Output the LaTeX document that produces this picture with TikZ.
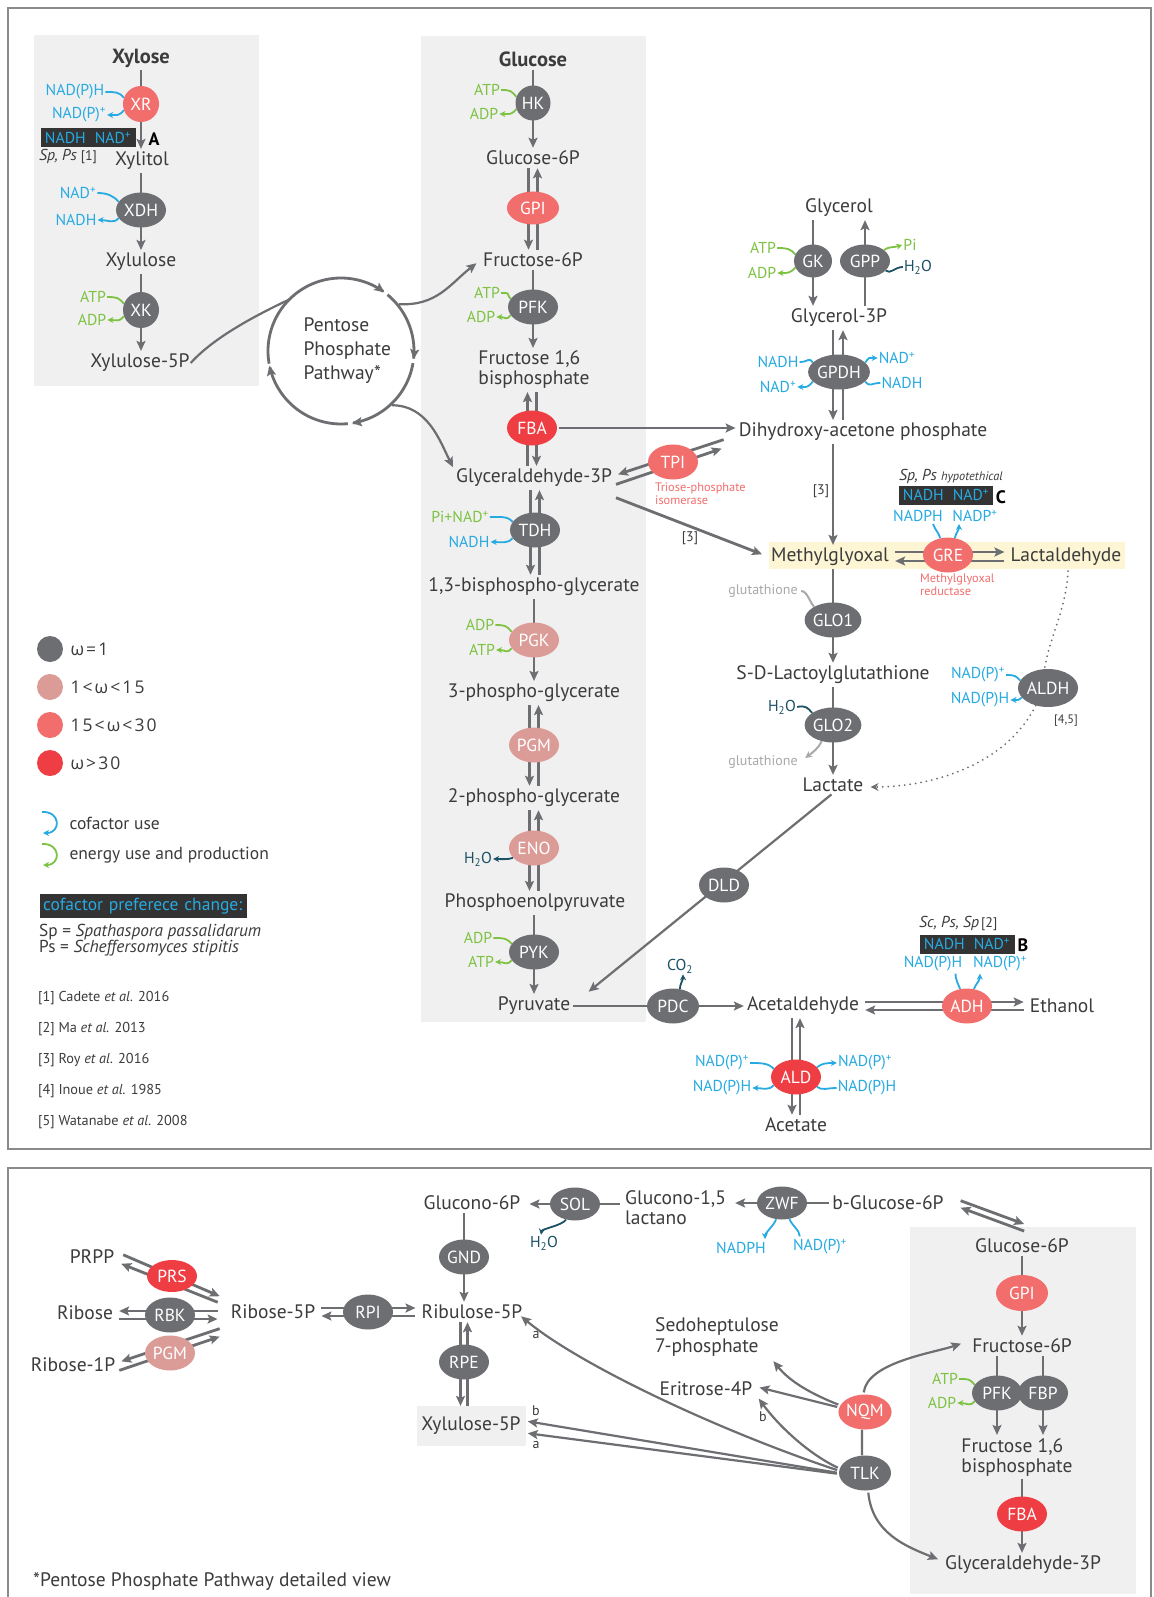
\documentclass[tikz,border=0pt]{standalone}
\usepackage{fontspec}
\setmainfont{PT Sans}
\newfontfamily\grk[LetterSpace=12]{Open Sans}
\usetikzlibrary{arrows.meta,shapes.geometric,calc}
\definecolor{txt}{HTML}{3C3C3C}
\definecolor{lg}{HTML}{6D6E71}
\definecolor{eg}{HTML}{6D6E71}
\definecolor{ep}{HTML}{DB9C98}
\definecolor{es}{HTML}{F26E6C}
\definecolor{er}{HTML}{EE3E44}
\definecolor{cbl}{HTML}{27AAE1}
\definecolor{cgn}{HTML}{7DC242}
\definecolor{cte}{HTML}{1D5166}
\definecolor{gbox}{HTML}{F0F0F0}
\definecolor{ybox}{HTML}{FDF5D3}
\definecolor{kbox}{HTML}{333333}
\definecolor{glu}{HTML}{A7A9AC}
\definecolor{frm}{HTML}{8A8A8A}
\newcommand\fM{\fontsize{19.5}{20}\selectfont}
\newcommand\fE{\fontsize{17.5}{19}\selectfont}
\newcommand\fC{\fontsize{15.8}{17}\selectfont}
\newcommand\fS{\fontsize{14}{16}\selectfont}
\newcommand\fT{\fontsize{12.3}{13}\selectfont}
\newcommand\fL{\fontsize{17.5}{19}\selectfont}
\newcommand\pl{\textsuperscript{+}}
\newcommand\wat{H\textsubscript{2}O}
\newcommand\cofl[5]{%
 \draw[#1] (#3.east) .. controls +(10,0) and +(-5,-6) .. (#5.160);
 \draw[#2] (#5.200) .. controls +(-5,6) and +(10,0) .. (#4.east);}
\pgfdeclarelayer{back}
\pgfdeclarelayer{bg}
\pgfsetlayers{back,bg,main}
\begin{document}
\begin{tikzpicture}[x=1pt,y=-1pt,
 met/.style={font=\fM, text=txt, inner sep=1pt},
 metb/.style={font=\fontsize{20.5}{22}\selectfont\bfseries, text=txt, inner sep=1pt},
 enz/.style={ellipse, minimum width=50pt, minimum height=35pt, inner sep=0pt, text=white, font=\fE},
 g1/.style={enz, fill=eg}, g2/.style={enz, fill=ep}, g3/.style={enz, fill=es}, g4/.style={enz, fill=er},
 rx/.style={draw=lg, line width=2.8pt},
 ar/.style={rx, shorten >=2pt, shorten <=2pt, -{Stealth[length=10pt,width=9pt,inset=2pt]}},
 cl/.style={font=\fC, text=cbl, inner sep=1pt},
 gl/.style={font=\fC, text=cgn, inner sep=1pt},
 tl/.style={font=\fC, text=cte, inner sep=1pt},
 cB/.style={draw=cbl, line width=1.8pt},
 cA/.style={cB, -{Stealth[length=6pt,width=6pt]}},
 gB/.style={draw=cgn, line width=1.8pt},
 gA/.style={gB, -{Stealth[length=6pt,width=6pt]}},
 tB/.style={draw=cte, line width=1.8pt},
 tA/.style={tB, -{Stealth[length=6pt,width=6pt]}},
 kbx/.style={fill=kbox, text=cbl, font=\fC, inner sep=0pt, minimum height=19pt},
 refs/.style={font=\fontsize{14.3}{16}\selectfont, text=txt, anchor=west, inner sep=0pt},
 sal/.style={font=\fT, text=es, align=left, anchor=west, inner sep=0pt},
 dot/.style={draw=lg, line width=2pt, line cap=round, dash pattern=on 0pt off 5.5pt},
]
\path[use as bounding box] (0,0) rectangle (1153,1597);
\clip (0,0) rectangle (1153,1597);
\begin{pgfonlayer}{back}
\fill[white] (0,0) rectangle (1153,1597);
\fill[gbox] (34,35) rectangle (259,386);
\fill[gbox] (421,36) rectangle (646,1022);
\fill[gbox] (910,1227) rectangle (1136,1594);
\fill[gbox] (417,1406) rectangle (526,1446);
\fill[ybox] (769,542) rectangle (1125,569);
\draw[frm, line width=1.2pt] (8,8) rectangle (1151,1149);
\draw[frm, line width=1.2pt] (8,1600) -- (8,1168) -- (1151,1168) -- (1151,1600);
\end{pgfonlayer}

% ---------- Xylose column
\node[metb] (xyl) at (141,58) {Xylose};
\node[g3, minimum width=36pt, minimum height=36pt] (xr) at (141,104) {XR};
\node[met] (xylt) at (142,161) {Xylitol};
\node[g1] (xdh) at (141,210) {XDH};
\node[met] (xlu) at (141,262) {Xylulose};
\node[g1, minimum width=36pt, minimum height=36pt] (xk) at (141,310) {XK};
\node[met] (x5p) at (140,363) {Xylulose-5P};
\node[cl] (xr1) at (75,92) {NAD(P)H};
\node[cl] (xr2) at (79,115) {NAD(P)\pl};
\node[kbx, minimum width=95pt] (bxa) at (88,138) {NADH\hspace{9pt}NAD\pl};
\node[font=\fontsize{18}{20}\selectfont\bfseries, text=black] (la) at (154,139) {A};
\node[font=\fC\itshape, text=txt, anchor=west, inner sep=0pt] (spa) at (39,156) {Sp, Ps\hspace{4pt}{\normalfont\fS[1]}};
\node[cl] (xdh1) at (78,193) {NAD\pl};
\node[cl] (xdh2) at (76,220) {NADH};
\node[gl] (xk1) at (93,297) {ATP};
\node[gl] (xk2) at (92,320) {ADP};

% ---------- Glucose column
\node[metb] (glc) at (533,59) {Glucose};
\node[g1, minimum width=35pt, minimum height=35pt] (hk) at (533,103) {HK};
\node[gl] (hk1) at (487,90) {ATP};
\node[gl] (hk2) at (484,114) {ADP};
\node[met] (g6p) at (533,158) {Glucose-6P};
\node[g3, minimum width=52pt, minimum height=33pt] (gpi) at (533,208) {GPI};
\node[met] (f6p) at (533,260) {Fructose-6P};
\node[g1] (pfk) at (533,307) {PFK};
\node[gl] (pfk1) at (487,293) {ATP};
\node[gl] (pfk2) at (481,317) {ADP};
\node[met, align=left] (fbp) at (534,370) {Fructose 1,6\\bisphosphate};
\node[g4] (fba) at (532,428) {FBA};
\node[met] (g3p) at (534,478) {Glyceraldehyde-3P};
\node[g1] (tdh) at (535,530) {TDH};
\node[gl] (tdh1) at (460,517) {Pi+NAD\pl};
\node[cl] (tdh2) at (469,542) {NADH};
\node[met] (bpg) at (534,587) {1,3-bisphospho-glycerate};
\node[g2] (pgk) at (534,640) {PGK};
\node[gl] (pgk1) at (480,625) {ADP};
\node[gl] (pgk2) at (482,650) {ATP};
\node[met] (p3g) at (534,693) {3-phospho-glycerate};
\node[g2] (pgm) at (534,745) {PGM};
\node[met] (p2g) at (534,798) {2-phospho-glycerate};
\node[g2] (eno) at (534,848) {ENO};
\node[tl] (eno1) at (478,859) {\wat};
\node[met] (pep) at (535,903) {Phosphoenolpyruvate};
\node[g1] (pyk) at (534,952) {PYK};
\node[gl] (pyk1) at (478,938) {ADP};
\node[gl] (pyk2) at (481,962) {ATP};
\node[met] (pyr) at (534,1006) {Pyruvate};

% ---------- Pentose phosphate circle
\coordinate (ppc) at (341,351);
\node[font=\fontsize{19.5}{24}\selectfont, text=txt, align=left, anchor=west] (ppt) at (300,351) {Pentose\\Phosphate\\Pathway*};

% ---------- Glycerol
\node[met] (glyc) at (839,208) {Glycerol};
\node[g1, minimum width=38pt, minimum height=33pt] (gk) at (813,261) {GK};
\node[g1, minimum width=50pt, minimum height=33pt] (gpp) at (865,261) {GPP};
\node[gl] (gk1) at (763,248) {ATP};
\node[gl] (gk2) at (762,273) {ADP};
\node[gl] (gpp1) at (910,245) {Pi};
\node[tl] (gpp2) at (918,267) {\wat};
\node[met] (gly3p) at (839,318) {Glycerol-3P};
\node[g1, minimum width=54pt] (gpdh) at (839,372) {GPDH};
\node[cl] (gd1) at (778,362) {NADH};
\node[cl] (gd2) at (778,387) {NAD\pl};
\node[cl] (gd3) at (897,358) {NAD\pl};
\node[cl] (gd4) at (902,383) {NADH};
\node[met] (dhap) at (863,432) {Dihydroxy-acetone phosphate};
\node[g3] (tpi) at (673,462) {TPI};
\node[sal] (tpit) at (655,494) {Triose-phosphate\\isomerase};
\node[font=\fS, text=txt] (r3a) at (821,491) {[3]};
\node[font=\fS, text=txt] (r3b) at (690,538) {[3]};

% ---------- Methylglyoxal
\node[met] (mgo) at (830,557) {Methylglyoxal};
\node[g3] (gre) at (948,555) {GRE};
\node[met] (lald) at (1066,557) {Lactaldehyde};
\node[sal] (gret) at (920,585) {Methylglyoxal\\reductase};
\node[font=\fC\itshape, text=txt, anchor=west, inner sep=0pt] (spc) at (899,476) {Sp, Ps {\fT hypotethical}};
\node[kbx, minimum width=94pt] (bxc) at (946,495) {NADH\hspace{9pt}NAD\pl};
\node[font=\fontsize{18}{20}\selectfont\bfseries, text=black] (lc) at (1001,497) {C};
\node[cl] (gre1) at (918,516) {NADPH};
\node[cl] (gre2) at (975,516) {NADP\pl};
\node[g1] (glo1) at (833,620) {GLO1};
\node[font=\fS, text=glu] (gt1) at (763,591) {glutathione};
\node[met] (sdl) at (833,675) {S-D-Lactoylglutathione};
\node[g1] (glo2) at (833,725) {GLO2};
\node[tl] (glo2w) at (782,707) {\wat};
\node[font=\fS, text=glu] (gt2) at (763,762) {glutathione};
\node[met] (lac) at (833,785) {Lactate};
\node[g1, minimum width=56pt, minimum height=38pt] (aldh) at (1048,688) {ALDH};
\node[cl] (al1) at (978,675) {NAD(P)\pl};
\node[cl] (al2) at (980,700) {NAD(P)H};
\node[font=\fT, text=txt] (r45) at (1066,721) {[4,5]};

% ---------- Pyruvate branch
\node[g1] (dld) at (724,885) {DLD};
\node[g1, minimum width=52pt] (pdc) at (673,1006) {PDC};
\node[tl] (co2) at (680,966) {CO\textsubscript{2}};
\node[met] (acald) at (803,1006) {Acetaldehyde};
\node[g3] (adh) at (967,1006) {ADH};
\node[met] (eth) at (1062,1006) {Ethanol};
\node[font=\fC\itshape, text=txt, anchor=west, inner sep=0pt] (spb) at (919,923) {Sc, Ps, Sp\hspace{2pt}{\normalfont\fS[2]}};
\node[kbx, minimum width=95pt] (bxb) at (967,944) {NADH\hspace{9pt}NAD\pl};
\node[font=\fontsize{18}{20}\selectfont\bfseries, text=black] (lb) at (1023,945) {B};
\node[cl] (adh1) at (933,964) {NAD(P)H};
\node[cl] (adh2) at (1000,964) {NAD(P)\pl};
\node[g4] (ald) at (796,1077) {ALD};
\node[cl] (ald1) at (722,1063) {NAD(P)\pl};
\node[cl] (ald2) at (722,1088) {NAD(P)H};
\node[cl] (ald3) at (865,1063) {NAD(P)\pl};
\node[cl] (ald4) at (867,1088) {NAD(P)H};
\node[met] (acet) at (796,1125) {Acetate};

% ---------- Legend
\fill[eg] (50,649) circle (13);
\fill[ep] (50,687) circle (13);
\fill[es] (50,725) circle (13);
\fill[er] (50,763) circle (13);
\node[anchor=west, font=\fontsize{17.5}{19}\grk, text=txt] (lw1) at (67,649) {ω=1};
\node[anchor=west, font=\fontsize{17.5}{19}\grk, text=txt] (lw2) at (67,687) {1<ω<15};
\node[anchor=west, font=\fontsize{17.5}{19}\grk, text=txt] (lw3) at (67,725) {15<ω<30};
\node[anchor=west, font=\fontsize{17.5}{19}\grk, text=txt] (lw4) at (67,763) {ω>30};
\draw[cA] (42,812) .. controls (61,811) and (61,833) .. (43,833);
\draw[gA] (42,844) .. controls (61,843) and (61,865) .. (43,865);
\node[anchor=west, font=\fL, text=txt] (lcu) at (66,823) {cofactor use};
\node[anchor=west, font=\fL, text=txt] (leu) at (66,855) {energy use and production};
\node[anchor=west, fill=kbox, text=cbl, font=\fL, inner xsep=3pt, minimum height=24pt, text width=201pt] (lcp) at (40,906) {cofactor preferece change:};
\node[anchor=west, font=\fontsize{17.3}{16}\selectfont, text=txt, inner sep=0pt, align=left] (lsp) at (39,940) {Sp = \textit{Spathaspora passalidarum}\\Ps = \textit{Scheffersomyces stipitis}};
\node[refs] (rf1) at (38,998) {[1] Cadete \textit{et al.} 2016};
\node[refs] (rf2) at (38,1029) {[2] Ma \textit{et al.} 2013};
\node[refs] (rf3) at (38,1060) {[3] Roy \textit{et al.} 2016};
\node[refs] (rf4) at (38,1091) {[4] Inoue \textit{et al.} 1985};
\node[refs] (rf5) at (38,1122) {[5] Watanabe \textit{et al.} 2008};

% ---------- Bottom panel
\node[met] (gl6p) at (472,1203) {Glucono-6P};
\node[g1, minimum height=33pt] (sol) at (575,1204) {SOL};
\node[font=\fontsize{19.5}{20}\selectfont, text=txt, inner sep=1pt, align=left, anchor=west] (gl15) at (624,1208) {Glucono-1,5\\lactano};
\node[g1, minimum height=33pt] (zwf) at (782,1203) {ZWF};
\node[met] (bg6p) at (888,1203) {b-Glucose-6P};
\node[tl] (solw) at (544,1243) {\wat};
\node[cl] (zwf1) at (741,1248) {NADPH};
\node[cl] (zwf2) at (820,1247) {NAD(P)\pl};
\node[met] (ri5p) at (273,1312) {Ribose-5P};
\node[g1] (rpi) at (368,1312) {RPI};
\node[met] (ru5p) at (472,1312) {Ribulose-5P};
\node[g1] (gnd) at (464,1257) {GND};
\node[g1] (rpe) at (464,1362) {RPE};
\node[met] (xu5pb) at (471,1426) {Xylulose-5P};
\node[met] (prpp) at (92,1257) {PRPP};
\node[g4, minimum height=32pt] (prs) at (172,1276) {PRS};
\node[met] (rib) at (85,1313) {Ribose};
\node[g1] (rbk) at (170,1315) {RBK};
\node[met] (rib1p) at (73,1365) {Ribose-1P};
\node[g2] (pgmb) at (170,1353) {PGM};
\node[met] (g6pb) at (1022,1246) {Glucose-6P};
\node[g3, minimum width=52pt, minimum height=36pt] (gpib) at (1022,1293) {GPI};
\node[met] (f6pb) at (1022,1346) {Fructose-6P};
\node[g1] (pfkb) at (997,1393) {PFK};
\node[g1] (fbpb) at (1043,1393) {FBP};
\node[gl] (pfkb1) at (945,1379) {ATP};
\node[gl] (pfkb2) at (942,1403) {ADP};
\node[met, align=left] (f16b) at (1017,1457) {Fructose 1,6\\bisphosphate};
\node[g4] (fbab) at (1022,1514) {FBA};
\node[met] (g3pb) at (1023,1565) {Glyceraldehyde-3P};
\node[g3, minimum width=52pt] (nqm) at (865,1412) {NQM};
\node[g1, minimum width=52pt] (tlk) at (865,1473) {TLK};
\node[font=\fontsize{19.5}{21}\selectfont, text=txt, inner sep=1pt, align=left] (sedo) at (717,1337) {Sedoheptulose\\7-phosphate};
\node[met] (eri) at (706,1389) {Eritrose-4P};
\node[font=\fS, text=txt] (la1) at (536,1335) {a};
\node[font=\fS, text=txt] (lb1) at (536,1411) {b};
\node[font=\fS, text=txt] (la2) at (536,1445) {a};
\node[font=\fS, text=txt] (lb2) at (763,1417) {b};
\node[met, anchor=west] (foot) at (32,1582) {*Pentose Phosphate Pathway detailed view};

\begin{pgfonlayer}{bg}
% xylose
\draw[ar] (xyl.south -| xr) -- (xylt.north -| xr);
\draw[ar] (xylt.south -| xr) -- (xlu.north -| xr);
\draw[ar] (xlu.south -| xr) -- (x5p.north -| xr);
\cofl{cB}{cA}{xr1}{xr2}{xr}
\cofl{cB}{cA}{xdh1}{xdh2}{xdh}
\cofl{gB}{gA}{xk1}{xk2}{xk}
% glucose
\draw[ar] (glc.south) -- (g6p.north);
\draw[ar] ($(g6p.south)+(-4.5,0)$) -- ($(f6p.north)+(-4.5,0)$);
\draw[ar] ($(f6p.north)+(4.5,0)$) -- ($(g6p.south)+(4.5,0)$);
\draw[ar] (f6p.south) -- (fbp.north -| f6p);
\draw[ar] ($(g3p.north -| fba)+(-4.5,0)$) -- ($(fbp.south -| fba)+(-4.5,0)$);
\draw[ar] ($(fbp.south -| fba)+(4.5,0)$) -- ($(g3p.north -| fba)+(4.5,0)$);
\draw[ar] ($(g3p.south -| tdh)+(-4.5,0)$) -- ($(bpg.north -| tdh)+(-4.5,0)$);
\draw[ar] ($(bpg.north -| tdh)+(4.5,0)$) -- ($(g3p.south -| tdh)+(4.5,0)$);
\draw[ar] (bpg.south -| pgk) -- (p3g.north -| pgk);
\draw[ar] ($(p3g.south -| pgm)+(-4.5,0)$) -- ($(p2g.north -| pgm)+(-4.5,0)$);
\draw[ar] ($(p2g.north -| pgm)+(4.5,0)$) -- ($(p3g.south -| pgm)+(4.5,0)$);
\draw[ar] ($(p2g.south -| eno)+(-4.5,0)$) -- ($(pep.north -| eno)+(-4.5,0)$);
\draw[ar] ($(pep.north -| eno)+(4.5,0)$) -- ($(p2g.south -| eno)+(4.5,0)$);
\draw[ar] (pep.south -| pyk) -- (pyr.north -| pyk);
\cofl{gB}{gA}{hk1}{hk2}{hk}
\cofl{gB}{gA}{pfk1}{pfk2}{pfk}
\cofl{cB}{cA}{tdh1}{tdh2}{tdh}
\cofl{gB}{gA}{pgk1}{pgk2}{pgk}
\cofl{gB}{gA}{pyk1}{pyk2}{pyk}
\draw[tA] (eno.205) .. controls +(-4,2) and +(6,0) .. (eno1.east);
% pentose circle
\draw[ar] plot[domain=-132:-52, samples=30] ({341+73*cos(\x)},{351+73*sin(\x)});
\draw[ar] plot[domain=-52:8, samples=30] ({341+73*cos(\x)},{351+73*sin(\x)});
\draw[ar] plot[domain=8:83, samples=30] ({341+73*cos(\x)},{351+73*sin(\x)});
\draw[ar] plot[domain=83:170, samples=30] ({341+73*cos(\x)},{351+73*sin(\x)});
\draw[rx] plot[domain=170:230, samples=30] ({341+73*cos(\x)},{351+73*sin(\x)});
\coordinate (pptl) at ($(ppc)+(-135:73)$);
\coordinate (pptr) at ($(ppc)+(-40:73)$);
\coordinate (ppbr) at ($(ppc)+(48:73)$);
\draw[rx, line width=2.2pt] (x5p.east) .. controls +(25,-28) and +(-25,12) .. (pptl);
\draw[ar, line width=2.2pt] (pptr) .. controls +(40,2) and +(-28,22) .. ($(f6p.west)+(-4,2)$);
\draw[ar, line width=2.2pt] (ppbr) .. controls +(38,0) and +(-14,-28) .. ($(g3p.west)+(-1,-9)$);
% glycerol
\draw[ar] (glyc.south -| gk) -- (gly3p.north -| gk);
\draw[ar] (gly3p.north -| gpp) -- (glyc.south -| gpp);
\cofl{gB}{gA}{gk1}{gk2}{gk}
\draw[gA] (gpp.30) .. controls +(6,-4) and +(-10,3) .. (gpp1.west);
\draw[tB] (gpp2.west) .. controls +(-8,0) and +(5,4) .. (gpp.335);
\draw[ar] ($(gly3p.south)+(-6,0)$) -- ($(dhap.north -| gly3p)+(-6,0)$);
\draw[ar] ($(dhap.north -| gly3p)+(4,0)$) -- ($(gly3p.south)+(4,0)$);
\cofl{cB}{cA}{gd1}{gd2}{gpdh}
\draw[cA] (gpdh.20) .. controls +(5,-6) and +(-10,0) .. (gd3.west);
\draw[cB] (gd4.west) .. controls +(-10,0) and +(5,6) .. (gpdh.340);
% FBA -> DHAP, TPI
\draw[ar] (fba.east) -- (dhap.west |- fba);
\draw[ar] ($(dhap.west)+(-12,7)$) -- ($(g3p.east)+(3,-3)$);
\draw[ar] ($(g3p.east)+(1,7)$) -- ($(dhap.west)+(-14,16)$);
\draw[ar] (dhap.south -| mgo.north) ++(3,0) -- ($(mgo.north)+(3,0)$);
\draw[ar] ($(g3p.east)+(1,19)$) -- ($(mgo.west)+(-6,-2)$);
% GRE
\draw[ar] ($(mgo.east)+(3,-5)$) -- ($(lald.west)+(-3,-5)$);
\draw[ar] ($(lald.west)+(-3,4)$) -- ($(mgo.east)+(3,4)$);
\draw[cB] ($(gre1.south)+(15,1)$) .. controls +(2,6) and +(-1,-5) .. (gre.115);
\draw[cA] (gre.68) .. controls +(1,-5) and +(0,6) .. ($(gre2.south)+(-16,1)$);
% GLO
\draw[ar] ($(mgo.south)+(3,0)$) -- ($(sdl.north -| glo1)$);
\draw[ar] (sdl.south -| glo2) -- (lac.north -| glo2);
\draw[draw=glu, line width=2pt] (gt1.east) .. controls +(6,0) and +(-4,-4) .. (glo1.145);
\draw[tB] (glo2w.east) .. controls +(8,-2) and +(-4,-5) .. (glo2.150);
\draw[draw=glu, line width=2pt, -{Stealth[length=7pt,width=7pt]}] (glo2.235) .. controls +(-4,8) and +(8,-6) .. ($(gt2.east)+(4,-4)$);
% ALDH dotted
\draw[dot] ($(lald.south)+(2,4)$) .. controls +(-2,40) and +(4,-30) .. (aldh.100);
\draw[dot, -{Stealth[length=8pt,width=8pt]}] (aldh.235) .. controls +(-30,60) and +(60,0) .. ($(lac.east)+(6,2)$);
\draw[cB] (al1.east) .. controls +(10,0) and +(-4,-4) .. (aldh.165);
\draw[cA] (aldh.200) .. controls +(-4,3) and +(8,0) .. (al2.east);
% DLD, PDC
\coordinate (pyrin) at (587,993);
\draw[ar, line width=2.2pt] (lac.south) -- (pyrin);
\draw[ar] (pyr.east) -- (acald.west);
\draw[tA] (pdc.68) .. controls +(0,-5) and +(0,6) .. ($(co2.south)+(3,0)$);
\draw[ar] ($(acald.east)+(3,-4)$) -- ($(eth.west)+(-3,-4)$);
\draw[ar] ($(eth.west)+(-3,4)$) -- ($(acald.east)+(3,4)$);
\draw[cB] ($(adh1.south east)+(-8,1)$) .. controls +(0,6) and +(-2,-5) .. (adh.112);
\draw[cA] (adh.68) .. controls +(2,-5) and +(0,7) .. ($(adh2.south west)+(8,1)$);
\draw[ar] ($(acald.south -| ald)+(-4,0)$) -- ($(acet.north -| ald)+(-4,0)$);
\draw[ar] ($(acet.north -| ald)+(4,0)$) -- ($(acald.south -| ald)+(4,0)$);
\cofl{cB}{cA}{ald1}{ald2}{ald}
\draw[cA] (ald.25) .. controls +(5,-4) and +(-10,0) .. (ald3.west);
\draw[cB] (ald4.west) .. controls +(-10,0) and +(5,4) .. (ald.335);
% bottom panel
\draw[ar] ($(gl15.west)+(-2,-4)$) -- ($(gl6p.east)+(6,1)$);
\draw[tA] (sol.240) .. controls +(-4,6) and +(1,-6) .. ($(solw.north)+(-3,0)$);
\draw[ar] (bg6p.west) -- ($(gl15.east |- bg6p)+(6,0)$);
\draw[cA] (zwf.250) .. controls +(-2,6) and +(0,-6) .. ($(zwf1.north east)+(-2,-2)$);
\draw[cB] ($(zwf2.north west)+(8,-2)$) .. controls +(0,-6) and +(2,6) .. (zwf.295);
\draw[ar] ($(bg6p.east)+(14,-3)$) -- ($(g6pb.north)+(4,-13)$);
\draw[ar] ($(g6pb.north)+(4,-6)$) -- ($(bg6p.east)+(14,4)$);
\draw[ar] (gl6p.south -| gnd) -- (ru5p.north -| gnd);
\draw[ar] ($(ru5p.south -| rpe)+(-3.5,0)$) -- ($(xu5pb.north -| rpe)+(-3.5,-8)$);
\draw[ar] ($(xu5pb.north -| rpe)+(3.5,-8)$) -- ($(ru5p.south -| rpe)+(3.5,0)$);
\draw[ar] ($(ri5p.east)+(3,-4)$) -- ($(ru5p.west)+(-3,-4)$);
\draw[ar] ($(ru5p.west)+(-3,4)$) -- ($(ri5p.east)+(3,4)$);
\draw[ar] ($(prpp.east)+(6,-3)$) -- ($(ri5p.west)+(-8,-15)$);
\draw[ar] ($(ri5p.west)+(-10,-9)$) -- ($(prpp.east)+(4,6)$);
\draw[ar] ($(ri5p.west)+(-10,-1)$) -- ($(rib.east)+(3,-2)$);
\draw[ar] ($(rib.east)+(3,6)$) -- ($(ri5p.west)+(-10,7)$);
\draw[ar] ($(ri5p.west)+(-8,16)$) -- ($(rib1p.east)+(3,-3)$);
\draw[ar] ($(rib1p.east)+(1,6)$) -- ($(ri5p.west)+(-8,24)$);
\draw[ar] (g6pb.south) -- (f6pb.north);
\draw[ar] (f6pb.south -| pfkb) -- (f16b.north -| pfkb);
\draw[ar] (f6pb.south -| fbpb) -- (f16b.north -| fbpb);
\cofl{gB}{gA}{pfkb1}{pfkb2}{pfkb}
\draw[ar] (f16b.south -| fbab) -- (g3pb.north -| fbab);
\draw[ar, line width=2.2pt] (nqm.165) .. controls +(-30,-12) and +(18,22) .. ($(sedo.south east)+(-8,2)$);
\draw[ar, line width=2.2pt] (nqm.170) -- ($(eri.east)+(4,-2)$);
\draw[ar, line width=2.2pt] (nqm.95) .. controls +(4,-32) and +(-30,10) .. ($(f6pb.west)+(-8,-3)$);
\draw[rx, line width=2.2pt] (nqm.260) -- (tlk.100);
\draw[ar, line width=2.2pt] (tlk.280) .. controls +(4,42) and +(-35,-14) .. ($(g3pb.west)+(-4,-5)$);
\draw[ar, line width=2.2pt] (tlk.170) .. controls +(-30,-14) and +(22,30) .. ($(eri.east)+(4,8)$);
\draw[ar, line width=2.2pt] (tlk.175) .. controls +(-120,-40) and +(60,50) .. ($(ru5p.east)+(-4,3)$);
\draw[ar, line width=2.2pt] (tlk.180) -- ($(xu5pb.east)+(4,-5)$);
\draw[ar, line width=2.2pt] (tlk.182) -- ($(xu5pb.east)+(4,7)$);
\end{pgfonlayer}
\end{tikzpicture}
\end{document}
